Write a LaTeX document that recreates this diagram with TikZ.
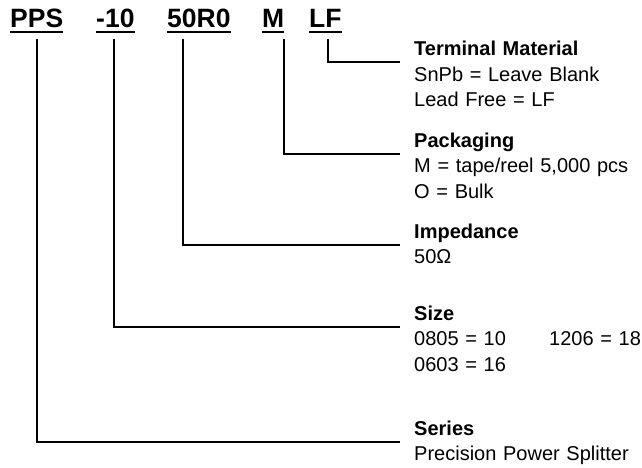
\documentclass[tikz,border=0pt]{standalone}
\usepackage{fontspec}
\setmainfont{Liberation Sans}
\usepackage{tikz}
\usetikzlibrary{positioning, calc}

\begin{document}
\begin{tikzpicture}[x=1pt, y=-1pt,
    code/.style={inner sep=0pt, anchor=base west, font=\fontsize{26.5}{30}\selectfont\bfseries},
    info/.style={inner sep=0pt, anchor=base west, text width=240pt, align=left, font=\fontsize{20}{25.5}\selectfont},
    uline/.style={line width=2.5pt},
    lead/.style={line width=2pt}]
  \useasboundingbox (0,0) rectangle (642,468);
  % part number fields
  \node[code] (pps) at (10,28) {PPS};
  \node[code] (size) at (96,28) {-10};
  \node[code] (imp) at (167,28) {50R0};
  \node[code] (pack) at (262,28) {M};
  \node[code] (term) at (309,28) {LF};
  \foreach \n in {pps, size, imp, pack, term}
    \draw[uline] ([yshift=-4pt]\n.base west) -- ([yshift=-4pt]\n.base east);
  % descriptions
  \node[info] (tterm) at (414,56) {\textbf{Terminal Material}\\SnPb = Leave Blank\\Lead Free = LF};
  \node[info] (tpack) at (414,147) {\textbf{Packaging}\\M = tape/reel 5,000 pcs\\O = Bulk};
  \node[info] (timp) at (414,238) {\textbf{Impedance}\\50Ω};
  \node[info] (tsize) at (414,320) {\textbf{Size}\\\makebox[135pt][l]{0805 = 10}1206 = 18\\0603 = 16};
  \node[info] (tpps) at (414,435) {\textbf{Series}\\Precision Power Splitter};
  % leader lines
  \coordinate (lterm) at (328,39);
  \coordinate (lpack) at (284,39);
  \coordinate (limp) at (183,39);
  \coordinate (lsize) at (114,39);
  \coordinate (lpps) at (37,39);
  \foreach \n in {term, pack, imp, size, pps}
    \draw[lead] (l\n) |- ([xshift=-14pt, yshift=-6.5pt]t\n.base west);
\end{tikzpicture}
\end{document}
